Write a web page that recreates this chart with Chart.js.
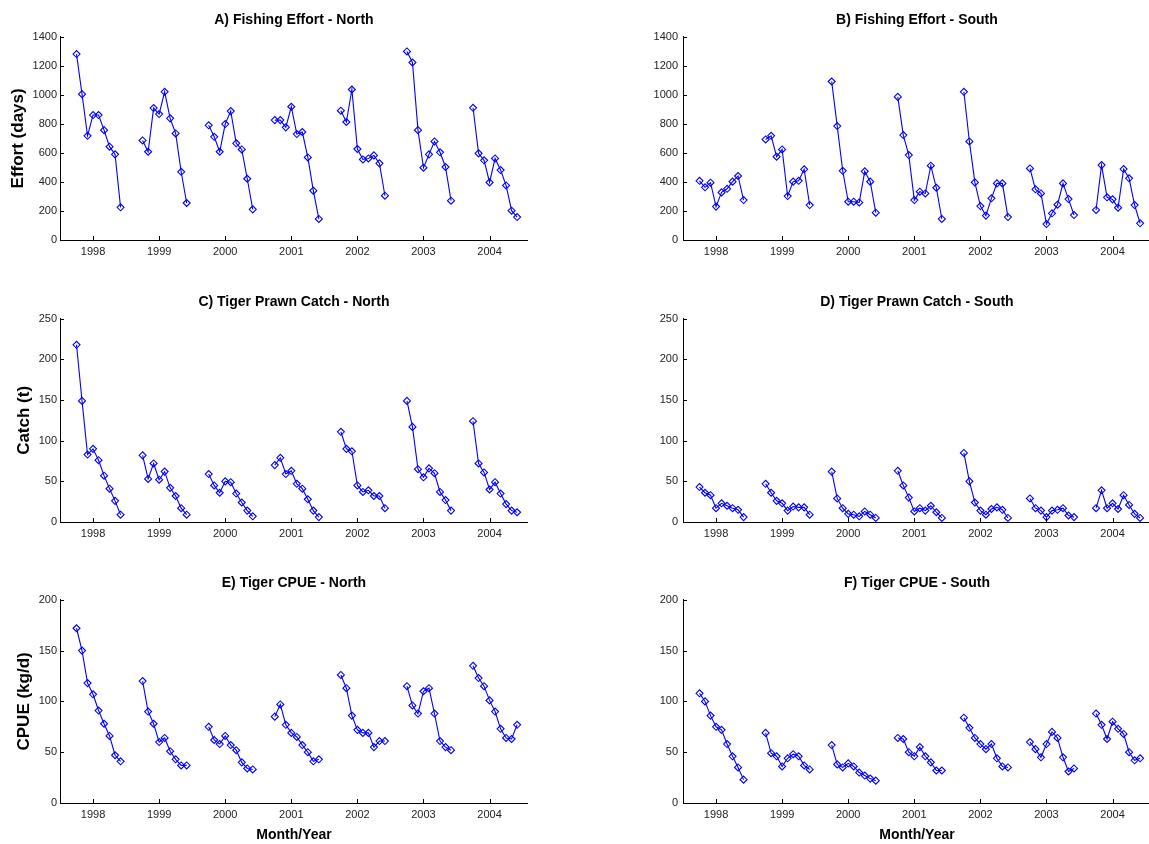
<!DOCTYPE html>
<html lang="en">
<head>
<meta charset="UTF-8">
<title>Tiger prawn effort, catch and CPUE</title>
<script src="https://cdn.jsdelivr.net/npm/chart.js"></script>
<style>
  html, body { margin: 0; padding: 0; background: #fff; overflow: hidden; }
  #wrap { position: relative; width: 1149px; height: 844px; overflow: hidden; }
  canvas { position: absolute; }
</style>
</head>
<body>
<div id="wrap">
  <canvas id="effortN"></canvas>
  <canvas id="effortS"></canvas>
  <canvas id="catchN"></canvas>
  <canvas id="catchS"></canvas>
  <canvas id="cpueN"></canvas>
  <canvas id="cpueS"></canvas>
</div>
<script>
const years = [1998, 1999, 2000, 2001, 2002, 2003, 2004];
// each season runs Oct..Jun, given as months from January
const monthOffsets = [-3, -2, -1, 0, 1, 2, 3, 4, 5];

const effortNorth = [
  [1281, 1005, 718, 861, 861, 757, 643, 590, 225],
  [686, 608, 909, 868, 1021, 838, 734, 470, 255],
  [790, 711, 608, 799, 888, 666, 624, 422, 211],
  [826, 826, 776, 918, 730, 744, 569, 340, 145],
  [891, 813, 1037, 627, 555, 562, 583, 528, 305],
  [1299, 1223, 757, 498, 590, 679, 604, 503, 271],
  [911, 597, 549, 397, 562, 482, 376, 202, 158]
];
const effortSouth = [
  [408, 363, 395, 230, 328, 353, 402, 441, 275],
  [693, 718, 574, 624, 303, 402, 408, 487, 241],
  [1092, 785, 477, 264, 264, 259, 473, 402, 188],
  [986, 723, 585, 275, 333, 321, 512, 360, 145],
  [1021, 679, 397, 234, 168, 287, 390, 390, 158],
  [493, 349, 321, 110, 184, 243, 390, 282, 172],
  [207, 516, 294, 280, 223, 489, 425, 241, 115]
];
const catchNorth = [
  [218, 149, 83, 90, 76, 57, 41, 26, 9],
  [82, 53, 72, 52, 62, 42, 32, 17, 9],
  [59, 45, 36, 50, 49, 35, 24, 14, 7],
  [70, 79, 59, 63, 47, 41, 28, 14, 6],
  [111, 90, 87, 45, 37, 39, 32, 32, 17],
  [149, 117, 65, 55, 66, 60, 37, 27, 14],
  [124, 72, 61, 40, 49, 35, 22, 14, 12]
];
const catchSouth = [
  [43, 36, 33, 17, 23, 20, 17, 15, 6],
  [47, 36, 26, 23, 14, 19, 18, 18, 9],
  [62, 29, 17, 10, 9, 7, 13, 9, 5],
  [63, 45, 30, 13, 17, 14, 20, 12, 5],
  [85, 50, 24, 14, 9, 16, 18, 15, 5],
  [29, 17, 14, 6, 14, 15, 17, 8, 6],
  [17, 39, 17, 23, 16, 33, 21, 10, 5]
];
const cpueNorth = [
  [172, 150, 118, 107, 91, 78, 66, 47, 41],
  [120, 90, 78, 60, 64, 51, 43, 37, 37],
  [75, 62, 58, 66, 57, 52, 40, 34, 33],
  [85, 97, 77, 69, 65, 57, 50, 41, 43],
  [126, 113, 86, 72, 69, 69, 55, 61, 61],
  [115, 96, 88, 110, 113, 88, 61, 55, 52],
  [135, 123, 115, 101, 90, 73, 64, 63, 77]
];
const cpueSouth = [
  [108, 100, 86, 75, 72, 58, 46, 35, 23],
  [69, 49, 46, 36, 44, 48, 46, 37, 33],
  [57, 38, 35, 39, 36, 30, 27, 24, 22],
  [64, 63, 50, 46, 55, 46, 40, 32, 32],
  [84, 74, 64, 58, 53, 58, 44, 36, 35],
  [60, 53, 45, 58, 70, 64, 45, 31, 34],
  [88, 77, 63, 80, 73, 68, 50, 42, 44]
];

const FONT = '"Liberation Sans", Arial, Helvetica, sans-serif';

function seasonPoints(values) {
  const pts = [];
  years.forEach((yr, i) => {
    monthOffsets.forEach((m, j) => pts.push({x: yr + m / 12, y: values[i][j]}));
    pts.push({x: yr + 0.5, y: null}); // gap between seasons
  });
  return pts;
}

// matlab style ticks, pointing into the plot
const innerTicks = {
  id: 'innerTicks',
  afterDatasetsDraw(chart) {
    const {ctx, chartArea, scales: {x, y}} = chart;
    ctx.save();
    ctx.strokeStyle = '#000';
    ctx.lineWidth = 1;
    ctx.beginPath();
    y.ticks.forEach(t => {
      const py = Math.round(y.getPixelForValue(t.value)) + 0.5;
      ctx.moveTo(chartArea.left, py);
      ctx.lineTo(chartArea.left + 4, py);
    });
    x.ticks.forEach(t => {
      const px = Math.round(x.getPixelForValue(t.value)) + 0.5;
      ctx.moveTo(px, chartArea.bottom);
      ctx.lineTo(px, chartArea.bottom - 4);
    });
    ctx.stroke();
    ctx.restore();
  }
};

const panels = [
  {id: 'effortN', values: effortNorth, title: 'A) Fishing Effort - North', yTitle: 'Effort (days)', yPad: 8, yMax: 1400, step: 200, col: 0, row: 0},
  {id: 'effortS', values: effortSouth, title: 'B) Fishing Effort - South', yTitle: '', yMax: 1400, step: 200, col: 1, row: 0},
  {id: 'catchN', values: catchNorth, title: 'C) Tiger Prawn Catch - North', yTitle: 'Catch (t)', yPad: 14, yMax: 250, step: 50, col: 0, row: 1},
  {id: 'catchS', values: catchSouth, title: 'D) Tiger Prawn Catch - South', yTitle: '', yMax: 250, step: 50, col: 1, row: 1},
  {id: 'cpueN', values: cpueNorth, title: 'E) Tiger CPUE - North', yTitle: 'CPUE (kg/d)', yPad: 14, yMax: 200, step: 50, col: 0, row: 2},
  {id: 'cpueS', values: cpueSouth, title: 'F) Tiger CPUE - South', yTitle: '', yMax: 200, step: 50, col: 1, row: 2}
];

const colLeft = [0, 620], colWidth = [533, 536], axisWidth = [60, 63], labelPad = [3, 5];
const rowTop = [0, 282, 563], rowHeight = [270, 270, 281], xAxisHeight = [30, 30, 41];

panels.forEach(p => {
  const cv = document.getElementById(p.id);
  cv.width = colWidth[p.col];
  cv.height = rowHeight[p.row];
  cv.style.left = colLeft[p.col] + 'px';
  cv.style.top = rowTop[p.row] + 'px';
  const last = p.row === 2;

  new Chart(cv, {
    type: 'line',
    data: {
      datasets: [{
        data: seasonPoints(p.values),
        borderColor: '#0000ff',
        borderWidth: 1.1,
        backgroundColor: 'rgba(0,0,0,0)',
        pointStyle: 'rectRot',
        pointRadius: 3.5,
        pointBorderWidth: 1.1,
        pointBorderColor: '#0000ff',
        pointBackgroundColor: 'rgba(0,0,0,0)',
        spanGaps: false,
        tension: 0
      }]
    },
    options: {
      responsive: false,
      animation: false,
      devicePixelRatio: 1,
      layout: {padding: 0},
      plugins: {
        legend: {display: false},
        tooltip: {enabled: false},
        title: {
          display: true,
          fullSize: false,
          text: p.title,
          color: '#000',
          font: {family: FONT, size: 14, weight: 'bold'},
          padding: {top: 12, bottom: 8}
        }
      },
      scales: {
        x: {
          type: 'linear',
          min: 1997.5,
          max: 2004.58,
          grid: {display: false, drawTicks: false},
          border: {display: true, color: '#000', width: 1},
          afterBuildTicks: s => { s.ticks = years.map(v => ({value: v})); },
          afterFit: s => { s.height = xAxisHeight[p.row]; },
          ticks: {
            color: '#222',
            padding: 5,
            autoSkip: false,
            maxRotation: 0,
            font: {family: FONT, size: 11},
            callback: v => String(v)
          },
          title: {
            display: last,
            text: 'Month/Year',
            color: '#000',
            font: {family: FONT, size: 14, weight: 'bold'},
            padding: {top: 0, bottom: 0}
          }
        },
        y: {
          min: 0,
          max: p.yMax,
          grid: {display: false, drawTicks: false},
          border: {display: true, color: '#000', width: 1},
          afterFit: s => { s.width = axisWidth[p.col]; },
          ticks: {
            stepSize: p.step,
            color: '#222',
            padding: labelPad[p.col],
            font: {family: FONT, size: 11},
            callback: v => String(v)
          },
          title: {
            display: p.yTitle !== '',
            text: p.yTitle,
            color: '#000',
            font: {family: FONT, size: 17, weight: 'bold'},
            padding: {top: p.yPad || 0, bottom: 0}
          }
        }
      }
    },
    plugins: [innerTicks]
  });
});
</script>
</body>
</html>
